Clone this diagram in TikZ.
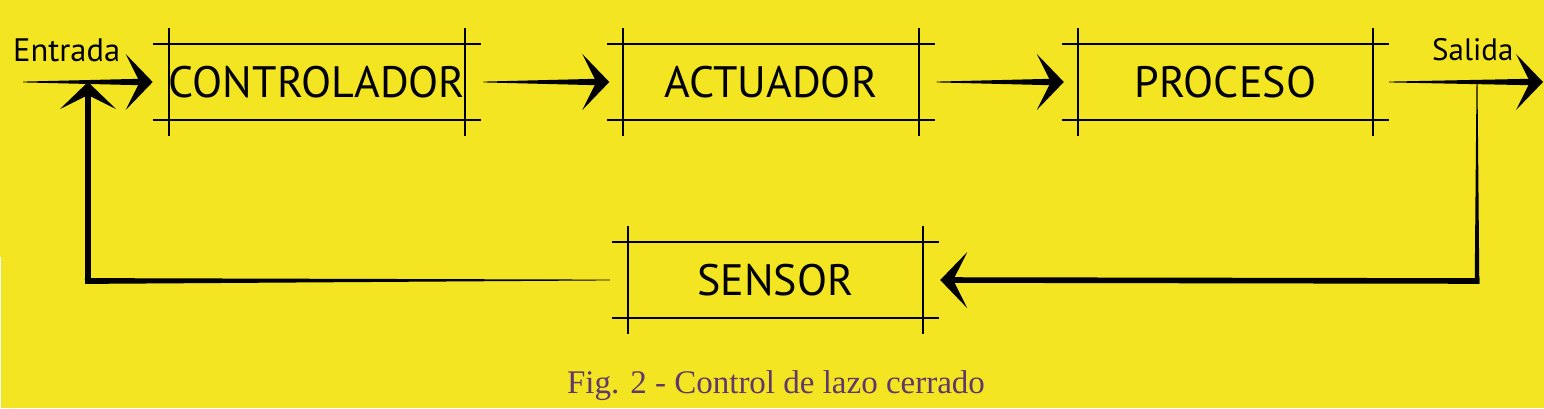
\documentclass[tikz,border=0pt]{standalone}
\usepackage{fontspec}
\setmainfont{Liberation Serif}
\newfontfamily\boxfont{PT Sans}
\usetikzlibrary{calc}
\definecolor{bg}{RGB}{243,229,33}
\definecolor{captioncol}{RGB}{96,56,108}
\definecolor{ink}{RGB}{0,0,0}
\tikzset{
  blockbox/.style={minimum width=295pt, minimum height=76pt, inner sep=0pt,
    font=\boxfont\fontsize{44}{50}\selectfont, text=ink},
  boxline/.style={line width=1.7pt, draw=ink},
  lbl/.style={font=\boxfont\fontsize{31}{36}\selectfont, text=ink, inner sep=0pt},
}
\newcommand\crossbox[1]{%
  \draw[boxline] ([xshift=-16pt]#1.north west) -- ([xshift=16pt]#1.north east);
  \draw[boxline] ([xshift=-16pt]#1.south west) -- ([xshift=16pt]#1.south east);
  \draw[boxline] ([yshift=16pt]#1.north west) -- ([yshift=-16pt]#1.south west);
  \draw[boxline] ([yshift=16pt]#1.north east) -- ([yshift=-16pt]#1.south east);}
% tapered shaft: from, to, start half width, end half width
\newcommand\taper[4]{%
  \fill[ink] ($#1!#3!90:#2$) -- ($#2!#4!-90:#1$) -- ($#2!#4!90:#1$) -- ($#1!#3!-90:#2$) -- cycle;}
% tapered arrow with barbed head: from, tip, start hw, end hw
\newcommand\tarrow[4]{%
  \coordinate (hn) at ($#2!13pt!#1$);
  \coordinate (hb) at ($#2!27pt!#1$);
  \taper{#1}{(hn)}{#3}{#4}
  \fill[ink] #2 -- ($(hb)!28pt!90:#2$) -- (hn) -- ($(hb)!28pt!-90:#2$) -- cycle;}
\begin{document}
\begin{tikzpicture}[x=1pt, y=-1pt]
\fill[bg] (0,0) rectangle (1544,408);
\fill[white] (0,257) rectangle (1.3,408);
\useasboundingbox (0,0) rectangle (1544,408);

\node[blockbox] (ctrl) at (317,82) {CONTROLADOR};
\node[blockbox] (act) at (771,82) {ACTUADOR};
\node[blockbox] (proc) at (1225.5,82) {PROCESO};
\node[blockbox] (sens) at (775.5,280) {SENSOR};
\crossbox{ctrl}\crossbox{act}\crossbox{proc}\crossbox{sens}

\node[lbl, font=\boxfont\fontsize{32.5}{36}\selectfont, anchor=base west] (entrada) at (13,61) {Entrada};
\node[lbl, anchor=base west] (salida) at (1432,60) {Salida};
\node[font=\fontsize{33}{38}\selectfont, text=captioncol, anchor=base, inner sep=0pt] (caption) at (776,393) {Fig. 2 - Control de lazo cerrado};

\coordinate (in) at (23,82);
\coordinate (out) at (1543,82);
\coordinate (tap) at (1477,84);
\coordinate (fbR) at (1477,281);
\coordinate (fbL) at (88,281);
\coordinate (sum) at (88,82);

% forward path
\tarrow{(in)}{([xshift=-16pt]ctrl.west)}{0.4pt}{3.2pt}
\tarrow{([xshift=18pt]ctrl.east)}{([xshift=-14pt]act.west)}{0.4pt}{3.2pt}
\tarrow{([xshift=18pt]act.east)}{([xshift=-14pt]proc.west)}{0.4pt}{3.2pt}
\tarrow{([xshift=16pt]proc.east)}{(out)}{0.4pt}{3.2pt}

% feedback path
\taper{(tap)}{([yshift=-2.6pt]fbR)}{0.5pt}{2.3pt}
\tarrow{([xshift=2.3pt]fbR)}{([xshift=17pt]sens.east)}{2.8pt}{2.8pt}
\taper{([xshift=-18pt]sens.west)}{([xshift=-3pt]fbL)}{0.4pt}{2.9pt}
\tarrow{([yshift=-3pt]fbL)}{(sum)}{3pt}{3pt}
\end{tikzpicture}
\end{document}
